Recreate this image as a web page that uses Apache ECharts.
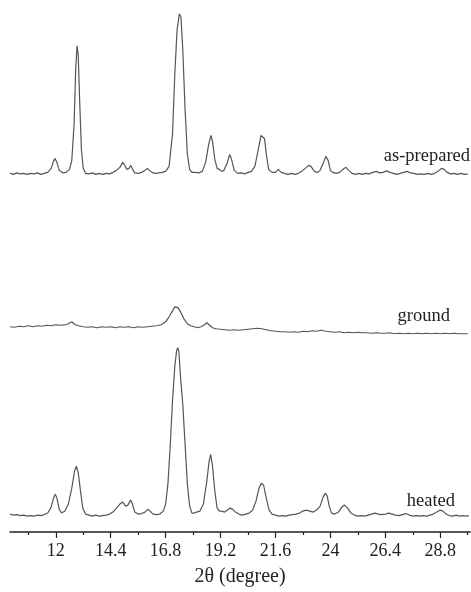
<!DOCTYPE html>
<html>
<head>
<meta charset="utf-8">
<script src="https://cdn.jsdelivr.net/npm/echarts@6/dist/echarts.min.js"></script>
<style>
  html, body { margin: 0; padding: 0; background: #fff; }
  #chart { width: 471px; height: 592px; }
</style>
</head>
<body>
<div id="chart"></div>
<script>
// 2θ / intensity pairs (arbitrary units)
const asPrepared = [
  [10.0, 1], [10.15, 0], [10.3, 1.5], [10.45, 0.5], [10.6, 1], [10.75, 0], [10.9, 1], [11.05, 0.5],
  [11.2, 1.5], [11.35, 0], [11.5, 1], [11.65, 2], [11.8, 6], [11.9, 13], [11.97, 16], [12.05, 12],
  [12.15, 4], [12.3, 1.5], [12.45, 2], [12.6, 5], [12.7, 14], [12.8, 50], [12.87, 105], [12.93, 129],
  [12.98, 120], [13.05, 70], [13.12, 25], [13.2, 6], [13.3, 1], [13.45, 0.5], [13.6, 1.5], [13.75, 0],
  [13.9, 1], [14.05, 0], [14.2, 1], [14.35, 0.5], [14.5, 2], [14.65, 4], [14.8, 7], [14.93, 12],
  [15.02, 9], [15.1, 5], [15.2, 6], [15.28, 9], [15.36, 5], [15.45, 1.5], [15.6, 1], [15.75, 2],
  [15.9, 4], [16.0, 6], [16.08, 5], [16.2, 2], [16.35, 1], [16.5, 1.5], [16.65, 2], [16.8, 3],
  [16.95, 8], [17.1, 40], [17.2, 100], [17.3, 145], [17.4, 161], [17.47, 158], [17.55, 125], [17.65, 65],
  [17.75, 20], [17.85, 5], [17.95, 2], [18.1, 2], [18.25, 1.5], [18.4, 3], [18.55, 12], [18.68, 30],
  [18.78, 39], [18.85, 33], [18.95, 15], [19.05, 6], [19.15, 5], [19.25, 3], [19.35, 4], [19.5, 12],
  [19.6, 20], [19.68, 15], [19.8, 4], [19.95, 1], [20.1, 1.5], [20.25, 0.5], [20.4, 2], [20.55, 3],
  [20.7, 8], [20.85, 25], [20.97, 39], [21.05, 40], [21.12, 36], [21.2, 20], [21.3, 5], [21.45, 2],
  [21.6, 2], [21.72, 5], [21.85, 2], [22.0, 1], [22.15, 0], [22.3, 1], [22.45, 0], [22.6, 1],
  [22.75, 3], [22.9, 6], [23.05, 9], [23.15, 8], [23.3, 3], [23.45, 2], [23.55, 4], [23.7, 12],
  [23.8, 18], [23.9, 14], [24.0, 4], [24.1, 2], [24.25, 1], [24.4, 2], [24.55, 5], [24.68, 7],
  [24.8, 4], [24.95, 1], [25.1, 0], [25.25, 1], [25.4, 0], [25.55, 1], [25.7, 0.5], [25.85, 2],
  [26.0, 3], [26.15, 1.5], [26.3, 2], [26.45, 3.5], [26.6, 2], [26.75, 1], [26.9, 0], [27.05, 1],
  [27.2, 2], [27.35, 3], [27.5, 1.5], [27.65, 1], [27.8, 0], [27.95, 0.5], [28.1, 0], [28.25, 1],
  [28.4, 0], [28.55, 1], [28.7, 3], [28.85, 6], [28.97, 5], [29.1, 2], [29.25, 0.5], [29.4, 1],
  [29.55, 0], [29.7, 1], [29.85, 0], [30.0, 0.5]
]

const ground = [
  [10.0, 7], [10.2, 6.5], [10.4, 7.5], [10.6, 7], [10.8, 8], [11.0, 7], [11.2, 8], [11.4, 7.5],
  [11.6, 8.5], [11.8, 8], [12.0, 9], [12.2, 8.5], [12.4, 9], [12.55, 10], [12.7, 12], [12.85, 9],
  [13.0, 8], [13.2, 7], [13.4, 6.5], [13.6, 7], [13.8, 6], [14.0, 7], [14.2, 6.5], [14.4, 7],
  [14.6, 6], [14.8, 7], [15.0, 6.5], [15.2, 7], [15.4, 6], [15.6, 7], [15.8, 6.5], [16.0, 7],
  [16.2, 7.5], [16.4, 8], [16.6, 9], [16.8, 12], [16.95, 17], [17.1, 23], [17.2, 27], [17.28, 28],
  [17.35, 26], [17.45, 22], [17.6, 15], [17.75, 10], [17.9, 8], [18.05, 7], [18.2, 6], [18.35, 7],
  [18.5, 9], [18.6, 11], [18.7, 9], [18.85, 6], [19.0, 5], [19.2, 4.5], [19.4, 4], [19.6, 3.5],
  [19.8, 4], [20.0, 3.5], [20.2, 4], [20.4, 4.5], [20.6, 5], [20.8, 5.5], [21.0, 5], [21.2, 4],
  [21.4, 3], [21.6, 2.5], [21.8, 2], [22.0, 2], [22.2, 1.5], [22.4, 2], [22.6, 1.5], [22.8, 2.5],
  [23.0, 2], [23.2, 3], [23.4, 2.5], [23.6, 3.5], [23.8, 2.5], [24.0, 2], [24.2, 1.5], [24.4, 2],
  [24.6, 1], [24.8, 1.5], [25.0, 1], [25.2, 1.5], [25.4, 1], [25.6, 1], [25.8, 0.5], [26.0, 1],
  [26.2, 0.5], [26.4, 0.5], [26.6, 1], [26.8, 0], [27.0, 0.5], [27.2, 0], [27.4, 0.5], [27.6, 0],
  [27.8, 0.5], [28.0, 0], [28.2, 0.5], [28.4, 0], [28.6, 0.5], [28.8, 0], [29.0, 0.5], [29.2, 0],
  [29.4, 0.5], [29.6, 0], [29.8, 0], [30.0, 0]
]

const heated = [
  [10.0, 2], [10.15, 1], [10.3, 1.5], [10.45, 0.5], [10.6, 1], [10.75, 0], [10.9, 0.5], [11.05, 0],
  [11.2, 1], [11.35, 0.5], [11.5, 1.5], [11.65, 3], [11.8, 9], [11.9, 18], [11.98, 22], [12.05, 18],
  [12.15, 7], [12.25, 3], [12.4, 5], [12.55, 12], [12.7, 28], [12.82, 45], [12.9, 50], [12.98, 44],
  [13.08, 25], [13.18, 8], [13.3, 2], [13.45, 1], [13.6, 0], [13.75, 1], [13.9, 0], [14.05, 0.5],
  [14.2, 1], [14.35, 2], [14.5, 4], [14.65, 8], [14.8, 12], [14.93, 14], [15.05, 10], [15.15, 11],
  [15.27, 16], [15.35, 12], [15.45, 4], [15.6, 2], [15.75, 2.5], [15.9, 4], [16.03, 7], [16.12, 5],
  [16.25, 2], [16.4, 1.5], [16.55, 2], [16.7, 5], [16.8, 12], [16.9, 32], [17.0, 70], [17.1, 115],
  [17.2, 150], [17.28, 166], [17.33, 169], [17.38, 165], [17.45, 140], [17.55, 112], [17.65, 72], [17.75, 32],
  [17.85, 10], [17.95, 3], [18.05, 3], [18.15, 4], [18.3, 5], [18.45, 12], [18.6, 35], [18.7, 55],
  [18.77, 62], [18.85, 50], [18.95, 25], [19.05, 8], [19.15, 5], [19.25, 5], [19.38, 4], [19.5, 6],
  [19.62, 8], [19.72, 7], [19.85, 4], [20.0, 2], [20.15, 1], [20.3, 2], [20.45, 3], [20.6, 6],
  [20.75, 15], [20.88, 28], [20.98, 33], [21.08, 31], [21.2, 18], [21.32, 6], [21.45, 2], [21.6, 1],
  [21.75, 0], [21.9, 0.5], [22.05, 0], [22.2, 1], [22.35, 1.5], [22.5, 2], [22.65, 3], [22.8, 5],
  [22.95, 6], [23.1, 5], [23.25, 4], [23.4, 6], [23.55, 10], [23.68, 19], [23.78, 23], [23.86, 20],
  [23.95, 10], [24.05, 3], [24.2, 2], [24.35, 4], [24.5, 9], [24.62, 11], [24.75, 8], [24.9, 3],
  [25.05, 1], [25.2, 0], [25.35, 0.5], [25.5, 0], [25.65, 1], [25.8, 2], [25.95, 3], [26.1, 2],
  [26.25, 1.5], [26.4, 2], [26.55, 3], [26.7, 2], [26.85, 1], [27.0, 0.5], [27.15, 1.5], [27.3, 2.5],
  [27.45, 1], [27.6, 0], [27.75, 0.5], [27.9, 0], [28.05, 0.5], [28.2, 0], [28.35, 1], [28.5, 2],
  [28.65, 4], [28.8, 6], [28.92, 5], [29.05, 2], [29.2, 0.5], [29.35, 0], [29.5, 1], [29.65, 0],
  [29.8, 0.5], [29.95, 0], [30.05, 0.5]
]

const majorTicks = [12, 14.4, 16.8, 19.2, 21.6, 24, 26.4, 28.8]
const minorTicks = [10.8, 13.2, 15.6, 18, 20.4, 22.8, 25.2, 27.6, 30]
const names = ['as-prepared', 'ground', 'heated']

// vertical stacking of the three patterns
const offsets = [359, 199, 16]
const shift = (arr, off) => arr.map(p => [p[0], p[1] + off])

const font = '"Liberation Serif", "Times New Roman", serif'
const chart = echarts.init(document.getElementById('chart'))

const lineSeries = (data, off) => ({
  type: 'line',
  data: shift(data, off),
  showSymbol: false,
  lineStyle: { color: '#555', width: 1.2 },
  silent: true,
  animation: false,
})

chart.setOption({
  backgroundColor: '#fff',
  grid: { top: 0, bottom: 58, left: 10, right: 1 },
  xAxis: [{
    type: 'value',
    min: 10,
    max: 30.1,
    name: '2θ (degree)',
    nameLocation: 'middle',
    nameGap: 35,
    nameTextStyle: { fontFamily: font, fontSize: 20, color: '#222' },
    axisLine: { lineStyle: { color: '#222', width: 1.5 } },
    axisTick: { customValues: majorTicks, length: 6, lineStyle: { color: '#222', width: 1.2 } },
    axisLabel: { customValues: majorTicks, fontFamily: font, fontSize: 18, color: '#222', margin: 10 },
    splitLine: { show: false },
  }, {
    type: 'value',
    min: 10,
    max: 30.1,
    position: 'bottom',
    axisLine: { show: false },
    axisTick: { customValues: minorTicks, length: 3, lineStyle: { color: '#222', width: 1.2 } },
    axisLabel: { show: false },
    splitLine: { show: false },
  }],
  yAxis: { type: 'value', min: 0, max: 534, show: false },
  series: [
    lineSeries(asPrepared, offsets[0]),
    lineSeries(ground, offsets[1]),
    lineSeries(heated, offsets[2]),
  ],
  graphic: [
    { type: 'text', right: 1, top: 147, style: { text: names[0], font: '18.5px ' + font, fill: '#222' } },
    { type: 'text', right: 21, top: 307, style: { text: names[1], font: '18.5px ' + font, fill: '#222' } },
    { type: 'text', right: 16, top: 492, style: { text: names[2], font: '18.5px ' + font, fill: '#222' } },
  ],
})
</script>
</body>
</html>
